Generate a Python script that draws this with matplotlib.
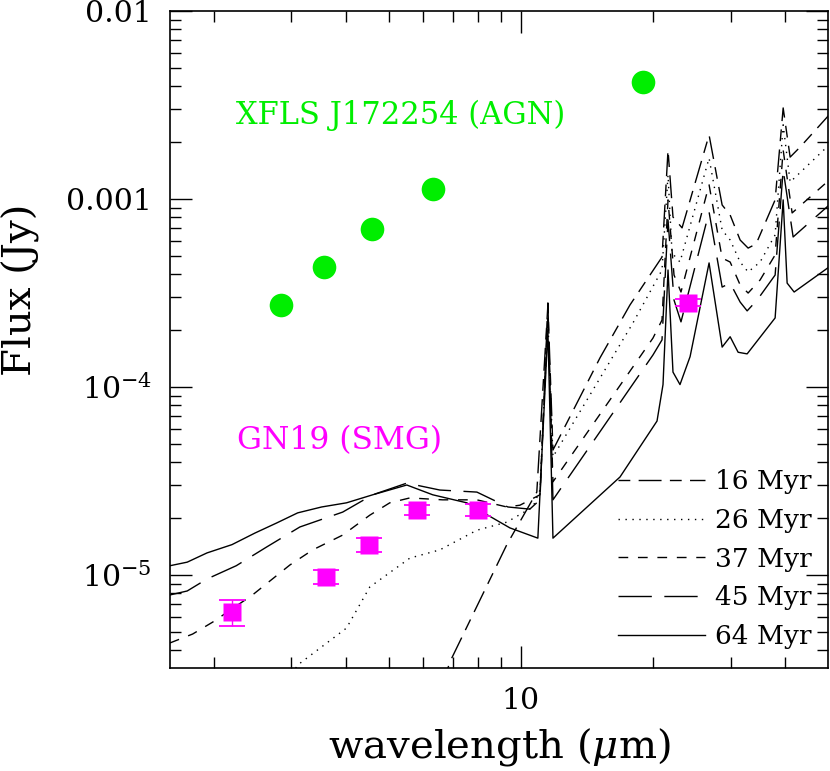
import math
import matplotlib
matplotlib.use("Agg")
import matplotlib.pyplot as plt
from matplotlib.ticker import LogLocator, FixedLocator, FuncFormatter, NullFormatter

plt.rcParams['font.family'] = 'DejaVu Serif'
plt.rcParams['mathtext.fontset'] = 'dejavuserif'

# model SEDs (wavelength in micron, flux in Jy)
wl_16 = [6.72, 6.89, 9.29, 10.87, 11.52, 11.83, 15.14, 17.71, 20.95, 21.62, 22.19, 23.27,
         26.81, 28.71, 29.94, 31.55, 32.90, 34.31, 37.90, 39.53, 41.00, 43.21, 50.3]
fx_16 = [2.86e-6, 3.44e-6, 1.45e-5, 2.76e-5, 2.73e-4, 4.62e-5, 1.43e-4, 2.73e-4, 4.91e-4, 1.82e-3, 8.02e-4, 7.02e-4,
         2.19e-3, 9.29e-4, 8.22e-4, 6.05e-4, 5.48e-4, 5.77e-4, 9.89e-4, 3.05e-3, 1.67e-3, 1.89e-3, 2.80e-3]

wl_26 = [2.90, 3.105, 4.01, 4.53, 5.59, 6.54, 7.94, 9.29, 10.65, 11.05, 11.52, 11.83, 17.99, 20.95,
         21.62, 22.08, 23.02, 26.81, 28.71, 29.94, 31.55, 32.90, 35.03, 37.90, 39.53, 41.00, 50.3]
fx_26 = [2.57e-6, 3.32e-6, 5.22e-6, 8.63e-6, 1.23e-5, 1.36e-5, 1.73e-5, 1.91e-5, 2.30e-5, 2.83e-5, 2.27e-4, 4.25e-5, 2.19e-4, 4.19e-4,
         1.34e-3, 5.16e-4, 4.62e-4, 1.65e-3, 6.84e-4, 6.05e-4, 4.62e-4, 4.09e-4, 4.62e-4, 6.44e-4, 2.48e-3, 1.23e-3, 1.94e-3]

wl_37 = [1.59, 1.79, 1.99, 2.45, 2.98, 3.36, 3.93, 4.53, 5.03, 5.59, 6.64, 7.94, 9.29, 9.95, 11.05, 11.52, 11.83,
         19.98, 20.95, 21.62, 22.31, 23.14, 26.81, 28.71, 29.94, 31.55, 32.90, 35.03, 37.90, 39.53, 41.43, 50.3]
fx_37 = [4.35e-6, 4.85e-6, 5.62e-6, 7.83e-6, 1.13e-5, 1.36e-5, 1.63e-5, 2.08e-5, 2.42e-5, 2.57e-5, 2.51e-5, 2.51e-5, 2.30e-5, 2.35e-5, 2.67e-5, 2.42e-4, 3.13e-5,
         1.82e-4, 2.27e-4, 9.89e-4, 3.94e-4, 3.20e-4, 1.19e-3, 4.85e-4, 4.62e-4, 3.49e-4, 3.16e-4, 3.71e-4, 5.04e-4, 1.82e-3, 8.43e-4, 1.26e-3]

wl_45 = [1.59, 1.74, 1.93, 2.25, 2.64, 3.14, 3.93, 4.60, 5.50, 6.54, 7.94, 9.34, 10.48, 11.05, 11.52, 11.83,
         19.98, 20.95, 21.62, 22.31, 23.14, 26.81, 28.71, 29.94, 31.55, 32.73, 34.49, 37.90, 39.53, 41.65, 50.3]
fx_45 = [7.83e-6, 8.22e-6, 9.52e-6, 1.12e-5, 1.41e-5, 1.80e-5, 2.16e-5, 2.67e-5, 3.08e-5, 2.83e-5, 2.76e-5, 2.30e-5, 2.24e-5, 2.51e-5, 2.80e-4, 2.51e-5,
         1.48e-4, 1.78e-4, 7.73e-4, 2.90e-4, 2.22e-4, 8.53e-4, 3.40e-4, 3.57e-4, 2.83e-4, 2.54e-4, 2.90e-4, 3.94e-4, 1.43e-3, 6.28e-4, 9.29e-4]

wl_64 = [1.59, 1.74, 1.93, 2.20, 2.48, 2.78, 3.105, 3.52, 4.01, 4.60, 5.50, 6.30, 7.53, 8.41, 9.44, 10.93, 11.52, 11.83,
         16.81, 20.41, 21.06, 21.62, 22.19, 23.02, 24.27, 26.81, 28.71, 29.94, 31.22, 32.73, 37.90, 39.53, 40.36, 41.87, 50.3]
fx_64 = [1.12e-5, 1.17e-5, 1.31e-5, 1.45e-5, 1.67e-5, 1.89e-5, 2.14e-5, 2.30e-5, 2.42e-5, 2.67e-5, 3.01e-5, 2.67e-5, 2.42e-5, 2.08e-5, 1.78e-5, 1.57e-5, 2.01e-4, 1.57e-5,
         3.32e-5, 6.59e-5, 1.03e-4, 4.19e-4, 1.20e-4, 1.03e-4, 1.45e-4, 4.57e-4, 1.63e-4, 1.85e-4, 1.53e-4, 1.50e-4, 2.33e-4, 9.89e-4, 3.57e-4, 3.20e-4, 4.35e-4]

# photometry
agn_wl = [2.85, 3.56, 4.58, 6.32, 19.0]
agn_fx = [2.73e-4, 4.35e-4, 6.92e-4, 1.13e-3, 4.19e-3]

smg_wl = [2.2, 3.6, 4.5, 5.8, 8.0, 24.0]
smg_fx = [6.35e-6, 9.76e-6, 1.45e-5, 2.22e-5, 2.22e-5, 2.80e-4]
smg_err = [1.0e-6, 0.86e-6, 1.2e-6, 1.4e-6, 1.7e-6, 1.2e-5]

fig = plt.figure(figsize=(8.3, 7.71), dpi=100)
ax = fig.add_axes([170/830, 1 - 668/771, 658/830, 657/771])

ax.plot(wl_16, fx_16, color='k', lw=1.0, dashes=(8.5, 6, 16.5, 6), label='16 Myr')
ax.plot(wl_26, fx_26, color='k', lw=1.0, dashes=(1, 4), label='26 Myr')
ax.plot(wl_37, fx_37, color='k', lw=1.0, dashes=(7, 7), label='37 Myr')
ax.plot(wl_45, fx_45, color='k', lw=1.0, dashes=(24, 9), label='45 Myr')
ax.plot(wl_64, fx_64, color='k', lw=1.0, label='64 Myr')

ax.plot(agn_wl, agn_fx, 'o', color='#00ee00', ms=17, mec='none')
ax.errorbar(smg_wl, smg_fx, yerr=smg_err, fmt='s', color='#ff00ff', ms=13.5, mec='none',
            capsize=9.5, elinewidth=1.0, capthick=1.3)

ax.text(5.33, 2.8e-3, 'XFLS J172254 (AGN)', color='#00ee00', fontsize=22, ha='center', va='center')
ax.text(3.87, 5.2e-5, 'GN19 (SMG)', color='#ff00ff', fontsize=22.5, ha='center', va='center')

ax.set_xscale('log')
ax.set_yscale('log')
ax.set_xlim(1.59, 50)
ax.set_ylim(3.2e-6, 0.01)

ax.xaxis.set_major_locator(FixedLocator([10]))
ax.xaxis.set_minor_locator(FixedLocator([2, 3, 4, 5, 6, 7, 8, 9, 20, 30, 40]))
ax.xaxis.set_major_formatter(FuncFormatter(lambda v, p: '10'))
ax.xaxis.set_minor_formatter(NullFormatter())

ylabels = {-2: '0.01', -3: '0.001', -4: '10$^{-4}$', -5: '10$^{-5}$'}
ax.yaxis.set_major_locator(FixedLocator([1e-5, 1e-4, 1e-3, 1e-2]))
ax.yaxis.set_minor_locator(LogLocator(base=10, subs=range(2, 10)))
ax.yaxis.set_major_formatter(FuncFormatter(lambda v, p: ylabels.get(int(round(math.log10(v))), '')))
ax.yaxis.set_minor_formatter(NullFormatter())

ax.tick_params(which='both', direction='in', top=True, right=True, width=1.0, labelsize=21.5)
ax.tick_params(which='major', length=16)
ax.tick_params(which='minor', length=8)
ax.tick_params(axis='y', which='major', pad=13)
ax.tick_params(axis='x', which='major', pad=14)
for s in ax.spines.values():
    s.set_linewidth(1.2)

ax.set_xlabel('wavelength ($\\mu$m)', fontsize=29)
ax.set_ylabel('Flux (Jy)', fontsize=29)
ax.xaxis.set_label_coords(0.5, -0.088)
ax.yaxis.set_label_coords(-0.198, 0.575)

ax.legend(loc='lower right', bbox_to_anchor=(0.976, 0.029), frameon=False, fontsize=19,
          handlelength=3.3, handletextpad=0.38, labelspacing=0.52, borderpad=0, borderaxespad=0)

fig.savefig('out.png', dpi=100)
